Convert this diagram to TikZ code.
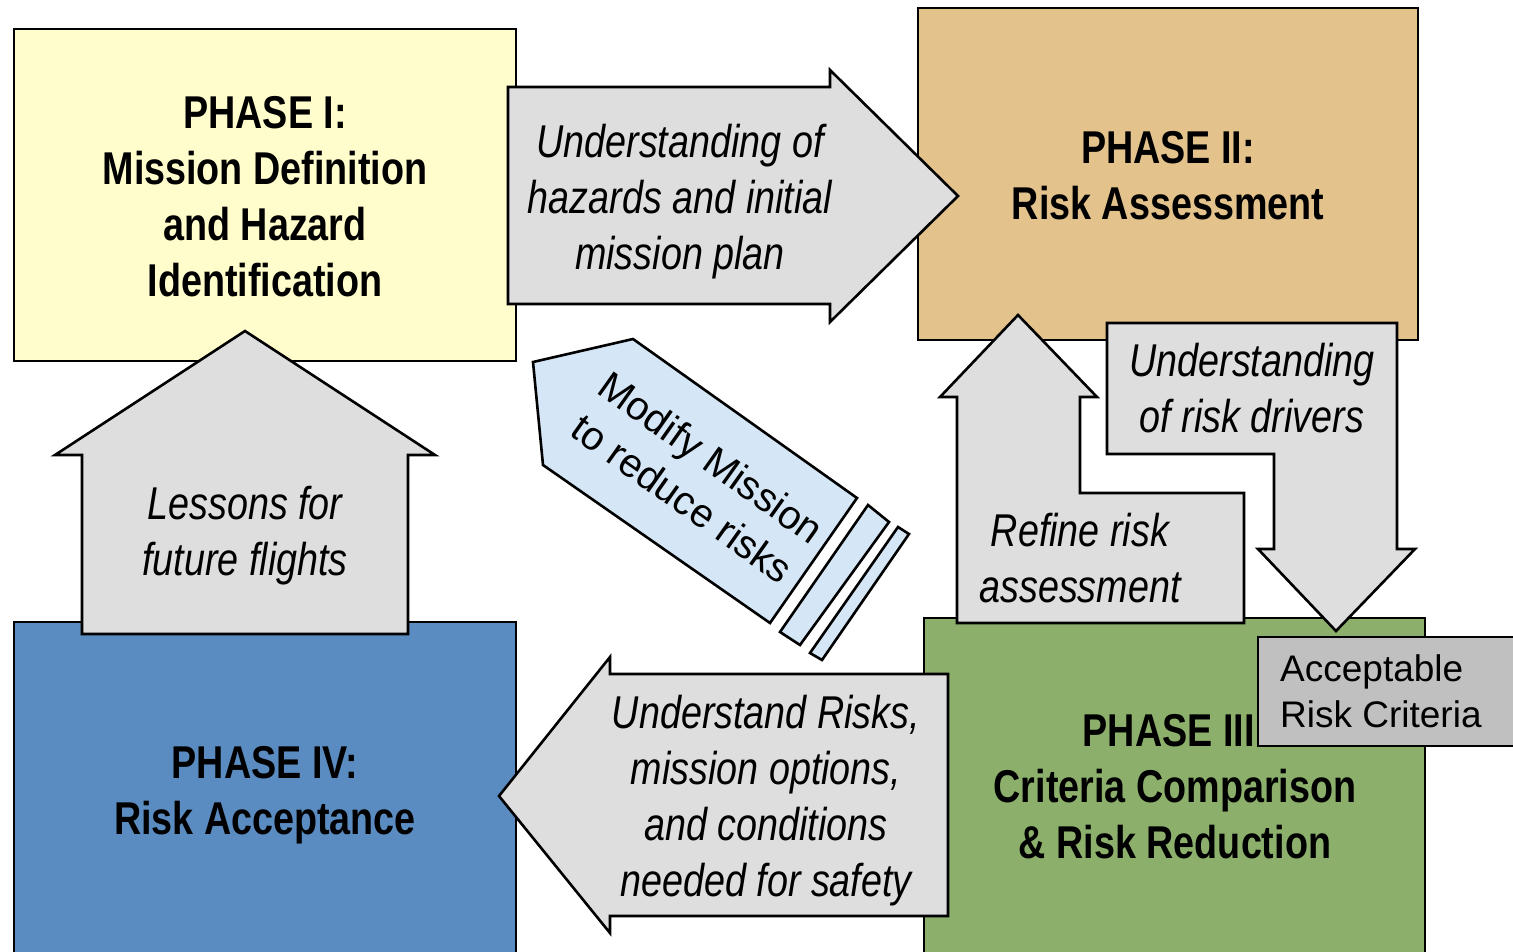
\documentclass[tikz,border=0pt]{standalone}
\usepackage{fontspec}
\setmainfont{Liberation Sans}
\newfontfamily\narrowfont[FakeStretch=0.82]{Liberation Sans}
\definecolor{pyellow}{HTML}{FFFDCB}
\definecolor{ptan}{HTML}{E3C28B}
\definecolor{pgreen}{HTML}{8CB06B}
\definecolor{pblue}{HTML}{5B8CC1}
\definecolor{agray}{HTML}{DEDEDE}
\definecolor{lblue}{HTML}{D5E6F6}
\definecolor{cgray}{HTML}{C0C0C0}
\tikzset{
  outl/.style={draw=black, line width=2.6pt, line join=miter},
  phasetext/.style={align=center, inner sep=0pt, font=\narrowfont\bfseries\fontsize{46}{56}\selectfont},
  arrtext/.style={align=center, inner sep=0pt, font=\narrowfont\itshape\fontsize{46}{56}\selectfont},
}
\begin{document}
\begin{tikzpicture}[x=1pt, y=-1pt]
\useasboundingbox (0,0) rectangle (1513,951);
% phase boxes
\path[outl, fill=pyellow] (14,29) rectangle (516,361);
\path[outl, fill=ptan] (918,8) rectangle (1418,340);
\path[outl, fill=pgreen] (924,618) rectangle (1425,965);
\path[outl, fill=pblue] (14,622) rectangle (516,965);
\node[phasetext] (p1) at (265,197) {PHASE I:\\Mission Definition\\and Hazard\\Identification};
\node[phasetext] (p2) at (1168,176) {PHASE II:\\Risk Assessment};
\node[phasetext] (p3) at (1175,787) {PHASE III:\\Criteria Comparison\\\& Risk Reduction};
\node[phasetext] (p4) at (265,795) {PHASE IV:\\Risk Acceptance};
% arrow I -> II
\path[outl, fill=agray] (508,87) -- (830,87) -- (830,70) -- (958,196) -- (830,322) -- (830,304) -- (508,304) -- cycle;
\node[arrtext] (a12) at (680,202) {Understanding of\\hazards and initial\\mission plan};
% lessons arrow (IV -> I)
\path[outl, fill=agray] (82,634) -- (82,455) -- (55,455) -- (245,331) -- (435,455) -- (408,455) -- (408,634) -- cycle;
\node[arrtext] (a41) at (245,536) {Lessons for\\future flights};
% understand risks arrow (III -> IV)
\path[outl, fill=agray] (948,674) -- (610,674) -- (610,657) -- (499,796) -- (610,933) -- (610,916) -- (948,916) -- cycle;
\node[arrtext] (a34) at (766,801) {Understand Risks,\\mission options,\\and conditions\\needed for safety};
% refine risk assessment (III -> II)
\path[outl, fill=agray] (1018,315) -- (1097,397) -- (1080,397) -- (1080,493) -- (1244,493) -- (1244,623) -- (957,623) -- (957,397) -- (940,397) -- cycle;
\node[arrtext] (a32) at (1080,558) {Refine risk\\assessment};
% understanding of risk drivers (II -> III)
\path[outl, fill=agray] (1107,323) -- (1397,323) -- (1397,549) -- (1415,549) -- (1336,631) -- (1258,549) -- (1274,549) -- (1274,454) -- (1107,454) -- cycle;
\node[arrtext] (a23) at (1252,388) {Understanding\\of risk drivers};
% acceptable risk criteria
\path[outl, fill=cgray] (1258,637) rectangle (1525,746);
\node[align=left, anchor=west, inner sep=0pt, font=\fontsize{37}{46}\selectfont] (arc) at (1280,691) {Acceptable\\Risk Criteria};
% modify mission arrow
\path[outl, fill=lblue] (533,362) -- (633,339) -- (857,498) -- (770,623) -- (543,465) -- cycle;
\path[outl, fill=lblue] (868,505) -- (889,522) -- (800,645) -- (780,632) -- cycle;
\path[outl, fill=lblue] (898,527) -- (909,534) -- (822,660) -- (810,653) -- cycle;
\node[align=center, inner sep=0pt, rotate=-35.4, font=\fontsize{40}{50}\selectfont] (mm) at (697,478) {Modify Mission\\to reduce risks};
\end{tikzpicture}
\end{document}
